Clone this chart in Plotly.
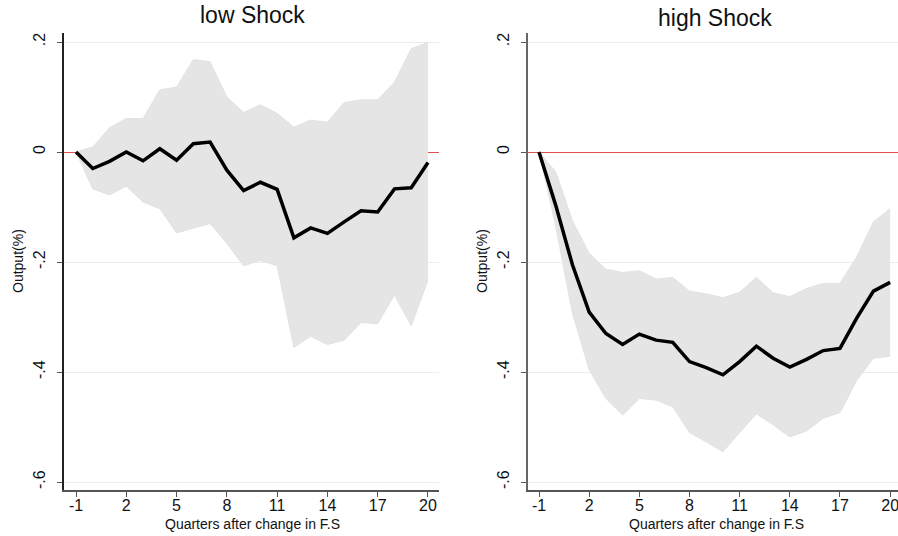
import plotly.graph_objects as go

# Horizon (quarters after the change in F.S)
quarters = list(range(-1, 21))

# Low shock: impulse response of output and its confidence band
low_irf = [0.0, -0.030, -0.017, 0.0, -0.016, 0.006, -0.015, 0.015, 0.018, -0.033, -0.070,
           -0.055, -0.068, -0.156, -0.138, -0.148, -0.127, -0.107, -0.109, -0.067, -0.065, -0.019]
low_upper = [0.0, 0.009, 0.044, 0.061, 0.061, 0.113, 0.118, 0.168, 0.164, 0.100, 0.072,
             0.086, 0.070, 0.045, 0.058, 0.054, 0.090, 0.095, 0.095, 0.127, 0.188, 0.199]
low_lower = [0.0, -0.067, -0.078, -0.062, -0.091, -0.103, -0.147, -0.139, -0.130, -0.166, -0.207,
             -0.197, -0.207, -0.355, -0.335, -0.350, -0.342, -0.310, -0.312, -0.260, -0.316, -0.233]

# High shock
high_irf = [0.0, -0.097, -0.205, -0.291, -0.330, -0.350, -0.331, -0.342, -0.346, -0.381, -0.392,
            -0.405, -0.381, -0.353, -0.375, -0.391, -0.377, -0.361, -0.357, -0.302, -0.253, -0.237]
high_upper = [0.0, -0.036, -0.125, -0.184, -0.213, -0.219, -0.216, -0.231, -0.228, -0.253, -0.258,
              -0.265, -0.255, -0.228, -0.256, -0.263, -0.248, -0.239, -0.239, -0.191, -0.127, -0.103]
high_lower = [0.0, -0.135, -0.293, -0.396, -0.448, -0.478, -0.448, -0.451, -0.463, -0.510, -0.527,
              -0.545, -0.510, -0.476, -0.496, -0.518, -0.507, -0.484, -0.474, -0.415, -0.375, -0.371]

x_ticks = [-1, 2, 5, 8, 11, 14, 17, 20]
x_tick_text = ["-1", "2", "5", "8", "11", "14", "17", "20"]
y_ticks = [0.2, 0.0, -0.2, -0.4, -0.6]
y_tick_text = [".2", "0", "-.2", "-.4", "-.6"]

panel_titles = ["low Shock", "high Shock"]
x_title = "Quarters after change in F.S"
y_title = "Output(%)"

W, H = 898, 536
FONT = "Arial, Liberation Sans, sans-serif"
BAND = "#e5e5e5"

fig = go.Figure()

panels = [
    ("x", "y", low_irf, low_upper, low_lower),
    ("x2", "y2", high_irf, high_upper, high_lower),
]
for xa, ya, irf, up, lo in panels:
    fig.add_trace(go.Scatter(x=quarters, y=up, xaxis=xa, yaxis=ya, mode="lines",
                             line=dict(color="#e2e2e2", width=1), hoverinfo="skip",
                             showlegend=False))
    fig.add_trace(go.Scatter(x=quarters, y=lo, xaxis=xa, yaxis=ya, mode="lines",
                             line=dict(color="#e2e2e2", width=1), fill="tonexty",
                             fillcolor=BAND, hoverinfo="skip", showlegend=False))
    fig.add_trace(go.Scatter(x=quarters, y=irf, xaxis=xa, yaxis=ya, mode="lines",
                             line=dict(color="black", width=3.5), showlegend=False))

y_dom = [(H - 490) / H, (H - 33) / H]
y_rng = [-0.6145, 0.2164]

common_x = dict(tickmode="array", tickvals=x_ticks, ticktext=x_tick_text, ticks="outside",
                ticklen=5, tickcolor="#555", showline=True, linewidth=1.5, linecolor="#555",
                showgrid=False, zeroline=False, ticklabeloverflow="allow",
                ticklabelstandoff=-5,
                tickfont=dict(size=16, color="#111", family=FONT))
common_y = dict(tickmode="array", tickvals=y_ticks, ticktext=y_tick_text, ticks="outside",
                ticklen=5, tickcolor="#555", tickangle=-90, showline=True, linewidth=1.5,
                showgrid=True, gridcolor="#e6eeee", gridwidth=1,
                zeroline=True, zerolinecolor="#e05050", zerolinewidth=1,
                tickfont=dict(size=16, color="#111", family=FONT),
                ticklabelstandoff=6, domain=y_dom, range=y_rng)

fig.update_layout(
    width=W, height=H,
    margin=dict(l=0, r=0, t=0, b=0),
    paper_bgcolor="white", plot_bgcolor="white",
    font=dict(family=FONT),
    xaxis=dict(common_x, domain=[64 / W, 439 / W], range=[-1.716, 20.657], anchor="y"),
    yaxis=dict(common_y, linecolor="#222", anchor="x"),
    xaxis2=dict(common_x, domain=[528 / W, 1.0], range=[-1.658, 20.47], anchor="y2"),
    yaxis2=dict(common_y, linecolor="#666", anchor="x2"),
)

def px_x(p):
    return p / W

def px_y(p):
    return 1 - p / H

annotations = [
    dict(text=panel_titles[0], x=px_x(252), y=px_y(15), font=dict(size=23, color="#111")),
    dict(text=panel_titles[1], x=px_x(715), y=px_y(18), font=dict(size=23, color="#111")),
    dict(text=x_title, x=px_x(252), y=px_y(524), font=dict(size=14, color="#111")),
    dict(text=x_title, x=px_x(716), y=px_y(524), font=dict(size=14, color="#111")),
    dict(text=y_title, x=px_x(18), y=px_y(261), textangle=-90, font=dict(size=14, color="#111")),
    dict(text=y_title, x=px_x(482), y=px_y(261), textangle=-90, font=dict(size=14, color="#111")),
]
for a in annotations:
    fig.add_annotation(xref="paper", yref="paper", showarrow=False,
                       xanchor="center", yanchor="middle", **a)

fig.write_html("out.html")
